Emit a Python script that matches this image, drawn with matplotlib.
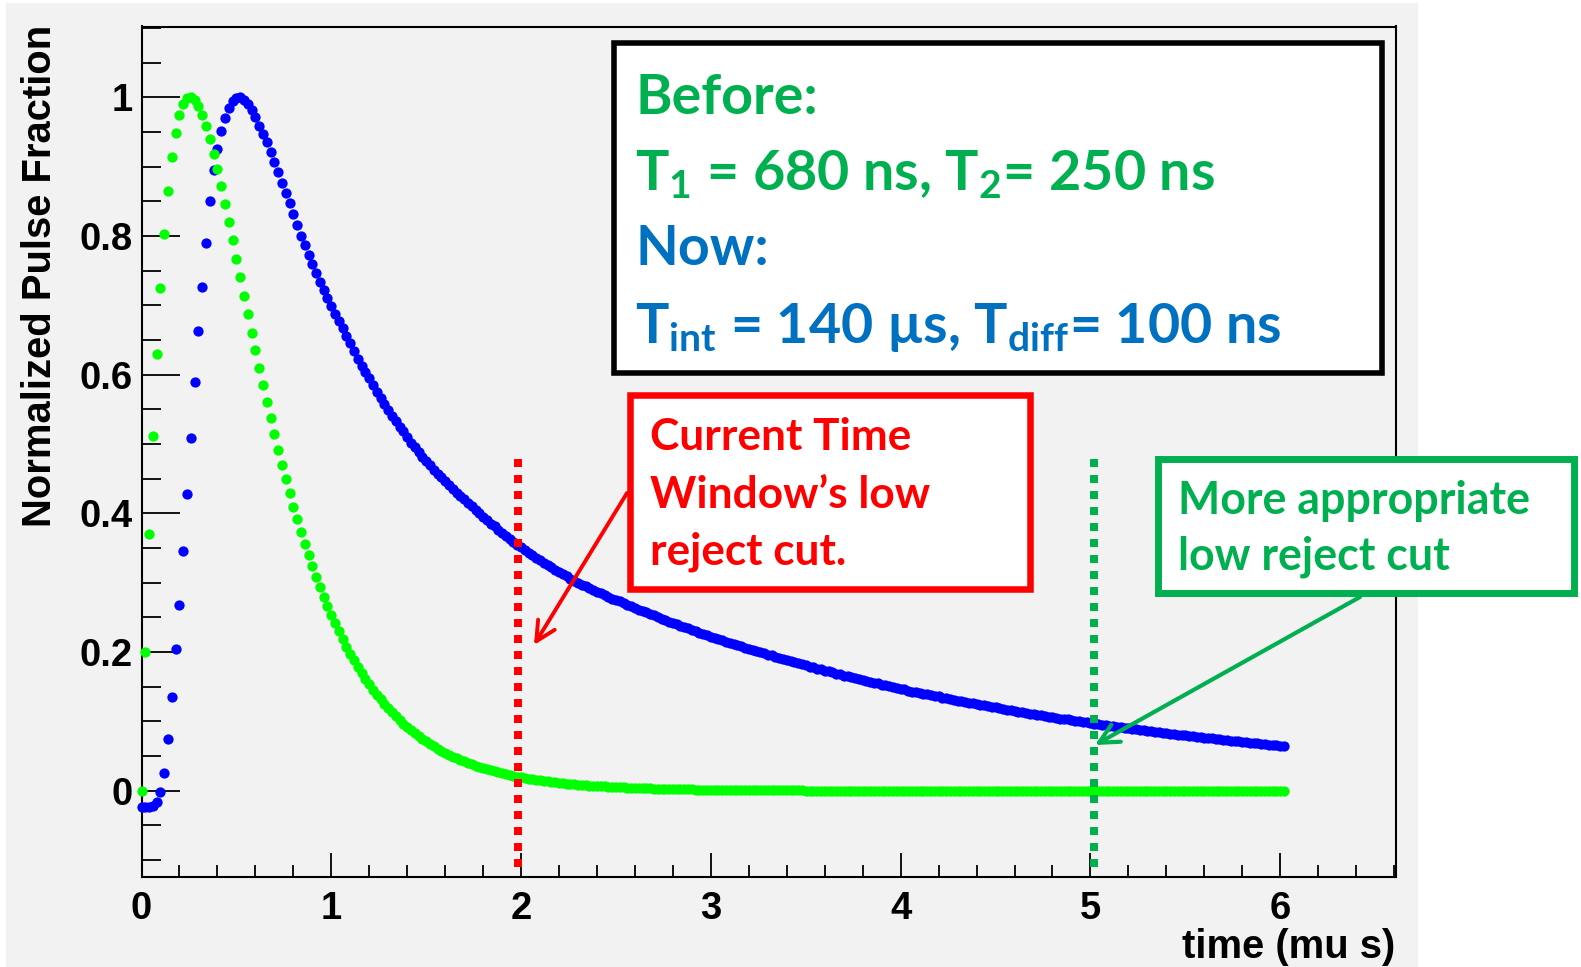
import numpy as np
import matplotlib.pyplot as plt
from matplotlib.patches import Rectangle, FancyArrowPatch

plt.rcParams['mathtext.fontset'] = 'custom'
plt.rcParams['mathtext.rm'] = 'Lato:bold'
plt.rcParams['mathtext.it'] = 'Lato:bold'
plt.rcParams['mathtext.bf'] = 'Lato:bold'

# shaped pulses, normalized to their peak, sampled every 20 ns
sample_step_us = 0.02

green_frac = [
    0.0000, 0.2006, 0.3699, 0.5116, 0.6292, 0.7255, 0.8034, 0.8653, 0.9131, 0.9488,
    0.9740, 0.9901, 0.9984, 1.0000, 0.9962, 0.9874, 0.9747, 0.9587, 0.9398, 0.9188,
    0.8960, 0.8718, 0.8466, 0.8206, 0.7941, 0.7673, 0.7404, 0.7136, 0.6870, 0.6607,
    0.6348, 0.6095, 0.5846, 0.5604, 0.5368, 0.5138, 0.4916, 0.4701, 0.4492, 0.4292,
    0.4098, 0.3911, 0.3732, 0.3560, 0.3394, 0.3235, 0.3082, 0.2937, 0.2797, 0.2663,
    0.2535, 0.2413, 0.2296, 0.2185, 0.2078, 0.1977, 0.1880, 0.1787, 0.1699, 0.1615,
    0.1535, 0.1459, 0.1387, 0.1318, 0.1252, 0.1190, 0.1130, 0.1073, 0.1019, 0.0968,
    0.0920, 0.0873, 0.0829, 0.0787, 0.0748, 0.0710, 0.0674, 0.0640, 0.0608, 0.0577,
    0.0547, 0.0520, 0.0493, 0.0468, 0.0444, 0.0422, 0.0400, 0.0380, 0.0360, 0.0342,
    0.0325, 0.0308, 0.0292, 0.0278, 0.0263, 0.0250, 0.0237, 0.0225, 0.0213, 0.0202,
    0.0192, 0.0183, 0.0173, 0.0165, 0.0156, 0.0148, 0.0141, 0.0133, 0.0127, 0.0120,
    0.0114, 0.0108, 0.0102, 0.0097, 0.0092, 0.0088, 0.0083, 0.0079, 0.0075, 0.0071,
    0.0067, 0.0064, 0.0061, 0.0058, 0.0055, 0.0052, 0.0049, 0.0047, 0.0044, 0.0042,
    0.0040, 0.0038, 0.0036, 0.0034, 0.0032, 0.0031, 0.0029, 0.0028, 0.0026, 0.0025,
    0.0024, 0.0022, 0.0021, 0.0020, 0.0019, 0.0018, 0.0017, 0.0016, 0.0015, 0.0015,
    0.0014, 0.0013, 0.0012, 0.0012, 0.0011, 0.0010, 0.0010, 0.0009, 0.0009, 0.0008,
    0.0008, 0.0008, 0.0007, 0.0007, 0.0007, 0.0006, 0.0006, 0.0005, 0.0005, 0.0005,
    0.0005, 0.0004, 0.0004, 0.0004, 0.0004, 0.0003, 0.0003, 0.0003, 0.0003, 0.0003,
    0.0003, 0.0003, 0.0003, 0.0003, 0.0002, 0.0002, 0.0002, 0.0002, 0.0002, 0.0002,
    0.0002, 0.0002, 0.0002, 0.0001, 0.0001, 0.0001, 0.0001, 0.0001, 0.0001, 0.0001,
    0.0001, 0.0001, 0.0001, 0.0001, 0.0001, 0.0001, 0.0001, 0.0001, 0.0001, 0.0001,
    0.0001, 0.0001, 0.0001, 0.0000, 0.0000, 0.0000, 0.0000, 0.0000, 0.0000, 0.0000,
    0.0000, 0.0000, 0.0000, 0.0000, 0.0000, 0.0000, 0.0000, 0.0000, 0.0000, 0.0000,
    0.0000, 0.0000, 0.0000, 0.0000, 0.0000, 0.0000, 0.0000, 0.0000, 0.0000, 0.0000,
    0.0000, 0.0000, 0.0000, 0.0000, 0.0000, 0.0000, 0.0000, 0.0000, 0.0000, 0.0000,
    0.0000, 0.0000, 0.0000, 0.0000, 0.0000, 0.0000, 0.0000, 0.0000, 0.0000, 0.0000,
    0.0000, 0.0000, 0.0000, 0.0000, 0.0000, 0.0000, 0.0000, 0.0000, 0.0000, 0.0000,
    0.0000, 0.0000, 0.0000, 0.0000, 0.0000, 0.0000, 0.0000, 0.0000, 0.0000, 0.0000,
    0.0000, 0.0000, 0.0000, 0.0000, 0.0000, 0.0000, 0.0000, 0.0000, 0.0000, 0.0000,
    0.0000, 0.0000, 0.0000, 0.0000, 0.0000, 0.0000, 0.0000, 0.0000, 0.0000, 0.0000,
    0.0000, 0.0000,
]

blue_frac = [
    -0.023, -0.023, -0.023, -0.022, -0.016, -0.002, 0.025, 0.075, 0.135, 0.205,
    0.268, 0.345, 0.428, 0.508, 0.590, 0.663, 0.726, 0.790, 0.850, 0.895,
    0.926, 0.951, 0.970, 0.984, 0.994, 0.999, 1.000, 0.996, 0.990, 0.982,
    0.972, 0.959, 0.947, 0.935, 0.921, 0.906, 0.892, 0.877, 0.862, 0.848,
    0.831, 0.816, 0.800, 0.787, 0.772, 0.759, 0.746, 0.734, 0.722, 0.711,
    0.699, 0.688, 0.677, 0.667, 0.656, 0.645, 0.634, 0.623, 0.613, 0.604,
    0.595, 0.585, 0.575, 0.566, 0.557, 0.549, 0.541, 0.533, 0.525, 0.518,
    0.510, 0.502, 0.495, 0.488, 0.481, 0.475, 0.469, 0.463, 0.457, 0.452,
    0.446, 0.441, 0.435, 0.430, 0.425, 0.420, 0.415, 0.410, 0.405, 0.400,
    0.395, 0.390, 0.385, 0.381, 0.376, 0.372, 0.367, 0.363, 0.359, 0.355,
    0.351, 0.347, 0.343, 0.340, 0.336, 0.332, 0.329, 0.325, 0.322, 0.318,
    0.315, 0.312, 0.309, 0.306, 0.303, 0.300, 0.297, 0.295, 0.292, 0.290,
    0.287, 0.285, 0.282, 0.280, 0.277, 0.275, 0.273, 0.270, 0.268, 0.266,
    0.264, 0.261, 0.259, 0.257, 0.255, 0.253, 0.250, 0.248, 0.246, 0.244,
    0.242, 0.240, 0.238, 0.236, 0.234, 0.232, 0.230, 0.228, 0.226, 0.224,
    0.222, 0.220, 0.219, 0.217, 0.215, 0.213, 0.211, 0.210, 0.208, 0.206,
    0.205, 0.203, 0.201, 0.200, 0.198, 0.196, 0.195, 0.193, 0.191, 0.190,
    0.188, 0.187, 0.185, 0.184, 0.182, 0.181, 0.179, 0.178, 0.176, 0.175,
    0.173, 0.172, 0.171, 0.169, 0.168, 0.166, 0.165, 0.164, 0.162, 0.161,
    0.160, 0.158, 0.157, 0.156, 0.155, 0.153, 0.152, 0.151, 0.150, 0.148,
    0.147, 0.146, 0.144, 0.143, 0.142, 0.141, 0.140, 0.139, 0.138, 0.137,
    0.136, 0.134, 0.133, 0.132, 0.131, 0.130, 0.129, 0.128, 0.127, 0.126,
    0.125, 0.124, 0.123, 0.122, 0.121, 0.120, 0.119, 0.118, 0.117, 0.116,
    0.115, 0.114, 0.113, 0.112, 0.111, 0.110, 0.109, 0.109, 0.108, 0.107,
    0.106, 0.105, 0.104, 0.1035, 0.103, 0.102, 0.101, 0.100, 0.099, 0.0985,
    0.0977, 0.0969, 0.0961, 0.0954, 0.0946, 0.0938, 0.0930, 0.0923, 0.0915, 0.0908,
    0.0900, 0.0893, 0.0886, 0.0878, 0.0871, 0.0864, 0.0857, 0.0850, 0.0844, 0.0837,
    0.0830, 0.0823, 0.0817, 0.0810, 0.0804, 0.0797, 0.0791, 0.0784, 0.0778, 0.0771,
    0.0765, 0.0759, 0.0753, 0.0746, 0.0740, 0.0734, 0.0728, 0.0722, 0.0717, 0.0711,
    0.0705, 0.0699, 0.0693, 0.0688, 0.0682, 0.0676, 0.0671, 0.0665, 0.0660, 0.0654,
    0.0649, 0.0644,
]

time_us = np.arange(len(blue_frac)) * sample_step_us

x_ticks = [0, 1, 2, 3, 4, 5, 6]
y_ticks = [0, 0.2, 0.4, 0.6, 0.8, 1]
y_tick_labels = ['0', '0.2', '0.4', '0.6', '0.8', '1']

cut_current_us = 1.984
cut_proposed_us = 5.018
cut_top, cut_bottom = 0.478, -0.110

W, H = 1581, 967
fig = plt.figure(figsize=(W / 100, H / 100), dpi=100, facecolor='white')


def fx(x):
    return x / W


def fy(y):
    return 1 - y / H


canvas_gray = '#f2f2f2'
fig.add_artist(Rectangle((fx(6), 0), fx(1418) - fx(6), fy(3), facecolor=canvas_gray,
                         edgecolor='none', zorder=-5))

ax = fig.add_axes([fx(141.5), fy(876.7), fx(1396) - fx(141.5), (876.7 - 26.5) / H])
ax.set_facecolor(canvas_gray)
ax.set_xlim(0, 6.61)
ax.set_ylim(-0.124, 1.102)

ax.plot(time_us, blue_frac, 'o', color='#0000ff', ms=7.4, mew=0, clip_on=False, zorder=3)
ax.plot(time_us, green_frac, 'o', color='#00ff00', ms=7.4, mew=0, clip_on=False, zorder=4)

# low reject cut positions
ax.plot([cut_current_us] * 2, [cut_top, cut_bottom], color='#ff0000', lw=5.76,
        linestyle=(0, (1, 1)), dash_capstyle='butt', zorder=5)
ax.plot([cut_proposed_us] * 2, [cut_top, cut_bottom], color='#00b050', lw=5.76,
        linestyle=(0, (1, 1)), dash_capstyle='butt', zorder=5)

tick_font = dict(family='Liberation Sans', weight='bold', size=27.5)
ax.set_xticks(x_ticks)
ax.set_xticklabels([str(v) for v in x_ticks], fontdict=tick_font)
ax.set_xticks(np.arange(0, 6.61, 0.2), minor=True)
ax.set_yticks(y_ticks)
ax.set_yticklabels(y_tick_labels, fontdict=tick_font)
ax.set_yticks(np.arange(-0.1, 1.11, 0.05), minor=True)

ax.tick_params(axis='y', which='major', direction='in', length=27.5, width=1.3, pad=6.5)
ax.tick_params(axis='y', which='minor', direction='in', length=13.7, width=1.3)
ax.tick_params(axis='x', which='major', direction='in', length=17.3, width=1.3, pad=10)
ax.tick_params(axis='x', which='minor', direction='in', length=8.5, width=1.3)
for sp in ax.spines.values():
    sp.set_linewidth(1.5)

fig.text(fx(40), fy(25), 'Normalized Pulse Fraction', rotation=90, ha='center', va='top',
         family='Liberation Sans', weight='bold', fontsize=28.8)
fig.text(fx(1395), fy(958), 'time (mu s)', ha='right', va='baseline',
         family='Liberation Sans', weight='bold', fontsize=28.8)

# annotation boxes
fig.add_artist(Rectangle((fx(614), fy(373)), fx(1382) - fx(614), (373 - 43) / H,
                         facecolor='white', edgecolor='black', lw=4, zorder=6))
fig.add_artist(Rectangle((fx(630), fy(589)), fx(1030) - fx(630), (589 - 395) / H,
                         facecolor='white', edgecolor='#ff0000', lw=4.7, zorder=6))
fig.add_artist(Rectangle((fx(1158), fy(593)), fx(1574) - fx(1158), (593 - 459) / H,
                         facecolor='white', edgecolor='#00b050', lw=5, zorder=6))

renderer = fig.canvas.get_renderer()


def fitted_size(s, width_px, **kw):
    t = fig.text(0, 0, s, fontsize=40, **kw)
    w = t.get_window_extent(renderer).width
    t.remove()
    return 40 * width_px / w


box_font = dict(family='Lato', weight='bold')
green_txt = '#00b050'
blue_txt = '#0070c0'

size_top = fitted_size('T$_{int}$ = 140 µs, T$_{diff}$= 100 ns', 646, **box_font)
top_lines = [
    ('Before:', green_txt, 114),
    ('T$_1$ = 680 ns, T$_2$= 250 ns', green_txt, 190),
    ('Now:', blue_txt, 265),
    ('T$_{int}$ = 140 µs, T$_{diff}$= 100 ns', blue_txt, 343),
]
for s, c, yb in top_lines:
    fig.text(fx(635), fy(yb), s, color=c, fontsize=size_top, va='baseline', zorder=7, **box_font)

size_red = fitted_size('Window’s low', 280, **box_font)
for s, yb in [('Current Time', 450), ('Window’s low', 508), ('reject cut.', 565)]:
    fig.text(fx(650), fy(yb), s, color='#ff0000', fontsize=size_red, va='baseline', zorder=7,
             **box_font)

size_green = fitted_size('More appropriate', 352, **box_font)
for s, yb in [('More appropriate', 514), ('low reject cut', 570)]:
    fig.text(fx(1178), fy(yb), s, color=green_txt, fontsize=size_green, va='baseline', zorder=7,
             **box_font)

# arrows from the boxes to the cut lines
fig.add_artist(FancyArrowPatch((fx(627), fy(493)), (fx(534), fy(645)),
                               arrowstyle='->,head_length=0.7,head_width=0.35', mutation_scale=20,
                               color='#ff0000', lw=2.8, shrinkA=0, shrinkB=0, zorder=7))
fig.add_artist(FancyArrowPatch((fx(1360), fy(597)), (fx(1095), fy(745)),
                               arrowstyle='->,head_length=0.7,head_width=0.35', mutation_scale=20,
                               color='#00b050', lw=3.0, shrinkA=0, shrinkB=0, zorder=7))

fig.savefig('out.png', dpi=100)
